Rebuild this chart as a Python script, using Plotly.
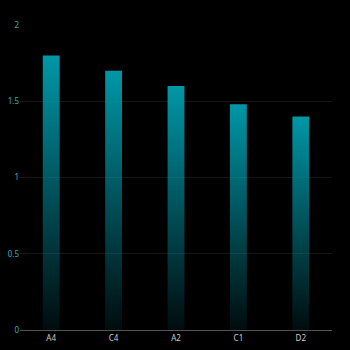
import plotly.graph_objects as go

categories = ["A4", "C4", "A2", "C1", "D2"]
values = [1.8, 1.7, 1.6, 1.48, 1.4]
y_ticks = [0, 0.5, 1, 1.5, 2]
y_tick_labels = ["0", "0.5", "1", "1.5", "2"]

half_w = 0.135
fig = go.Figure()
for i, v in enumerate(values):
    xs = [i - half_w, i + half_w, i + half_w, i - half_w, i - half_w]
    ys = [0, 0, v, v, 0]
    fig.add_trace(go.Scatter(
        x=xs, y=ys, mode="lines", fill="toself",
        line=dict(width=0),
        fillgradient=dict(
            type="vertical",
            colorscale=[[0, "rgba(0,151,167,0.08)"], [1, "rgba(0,151,167,1)"]],
        ),
        hoverinfo="skip", showlegend=False,
    ))

fig.update_layout(
    width=350, height=350,
    paper_bgcolor="#000000", plot_bgcolor="#000000",
    margin=dict(l=20, r=18, t=25, b=20),
    showlegend=False,
    xaxis=dict(
        range=[-0.5, len(categories) - 0.5], automargin=False,
        tickmode="array", tickvals=list(range(len(categories))), ticktext=categories,
        showgrid=False, zeroline=False,
        showline=True, linecolor="#555555", linewidth=1,
        ticks="", tickfont=dict(family="Noto Sans", size=8, color="#cccccc"),
        fixedrange=True,
    ),
    yaxis=dict(
        range=[0, 2], automargin=False, tickmode="array", tickvals=y_ticks, ticktext=y_tick_labels,
        showgrid=True, gridcolor="#161616", gridwidth=1,
        zeroline=False, showline=False, ticks="",
        tickfont=dict(family="Noto Sans", size=8, color="#2bb0c0"),
        fixedrange=True,
    ),
)

fig.write_html("out.html", config={"displayModeBar": False})
